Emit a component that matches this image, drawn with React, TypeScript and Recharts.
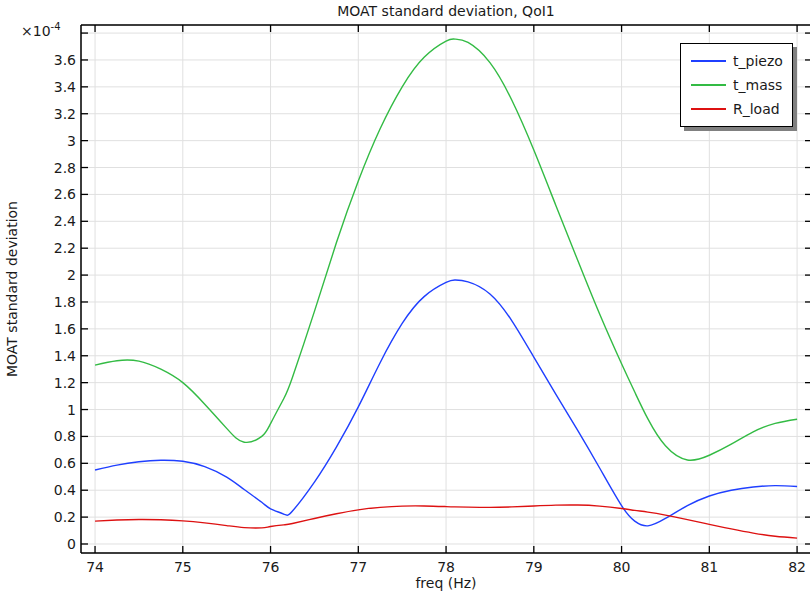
import React from 'react';
import { LineChart, Line, XAxis, YAxis, CartesianGrid, Legend } from 'recharts';

const freq = [74, 74.25, 74.5, 74.75, 75, 75.25, 75.5, 75.7, 75.9, 76, 76.15, 76.25, 76.5, 76.75, 77, 77.25, 77.5, 77.75, 78, 78.1, 78.25, 78.5, 78.75, 79, 79.25, 79.5, 79.75, 80, 80.15, 80.3, 80.5, 80.75, 81, 81.25, 81.5, 81.75, 82];

const tPiezo = [0.55, 0.587, 0.612, 0.623, 0.615, 0.575, 0.497, 0.405, 0.31, 0.262, 0.222, 0.245, 0.46, 0.72, 1.02, 1.35, 1.64, 1.84, 1.945, 1.963, 1.95, 1.86, 1.66, 1.39, 1.115, 0.845, 0.565, 0.285, 0.17, 0.135, 0.19, 0.285, 0.357, 0.40, 0.424, 0.434, 0.428];

const tMass = [1.33, 1.363, 1.36, 1.30, 1.20, 1.04, 0.86, 0.757, 0.80, 0.895, 1.08, 1.24, 1.73, 2.24, 2.70, 3.09, 3.40, 3.62, 3.74, 3.755, 3.73, 3.58, 3.30, 2.93, 2.52, 2.11, 1.71, 1.34, 1.13, 0.93, 0.73, 0.625, 0.66, 0.742, 0.834, 0.897, 0.928];

const rLoad = [0.17, 0.178, 0.182, 0.18, 0.172, 0.157, 0.137, 0.122, 0.12, 0.13, 0.142, 0.152, 0.19, 0.225, 0.254, 0.272, 0.282, 0.283, 0.278, 0.276, 0.274, 0.272, 0.276, 0.283, 0.289, 0.29, 0.282, 0.264, 0.25, 0.237, 0.215, 0.181, 0.146, 0.112, 0.081, 0.058, 0.044];

const xTicks = [74, 75, 76, 77, 78, 79, 80, 81, 82];
const yTicks = [0, 0.2, 0.4, 0.6, 0.8, 1, 1.2, 1.4, 1.6, 1.8, 2, 2.2, 2.4, 2.6, 2.8, 3, 3.2, 3.4, 3.6, 3.8];
const yLabelMax = 3.6;

const seriesNames = ['t_piezo', 't_mass', 'R_load'];
const seriesColors = ['#1f3fff', '#33bb44', '#dd1111'];

const data = freq.map((f, i) => ({
  freq: f,
  t_piezo: tPiezo[i],
  t_mass: tMass[i],
  R_load: rLoad[i],
}));

const FONT = '"DejaVu Sans", sans-serif';
const TXT = '#1a1a1a';
const TICK = 7;

const fmt = (v: number) => String(Math.round(v * 10) / 10);

const LeftTick = (props: any) => {
  const { x, y, payload } = props;
  const v = payload.value as number;
  return (
    <g>
      <line x1={x} x2={x + TICK} y1={y} y2={y} stroke="#000" strokeWidth={1.3} />
      {v <= yLabelMax + 1e-9 && (
        <text x={x - 5} y={y} dy={5} textAnchor="end" fontSize={14} fontFamily={FONT} fill={TXT}>
          {fmt(v)}
        </text>
      )}
    </g>
  );
};

const RightTick = (props: any) => {
  const { x, y } = props;
  return <line x1={x} x2={x - TICK} y1={y} y2={y} stroke="#000" strokeWidth={1.3} />;
};

const BottomTick = (props: any) => {
  const { x, y, payload } = props;
  return (
    <g>
      <line x1={x} x2={x} y1={y} y2={y - TICK} stroke="#000" strokeWidth={1.3} />
      <text x={x} y={y + 19} textAnchor="middle" fontSize={14} fontFamily={FONT} fill={TXT}>
        {payload.value}
      </text>
    </g>
  );
};

const TopTick = (props: any) => {
  const { x, y } = props;
  return <line x1={x} x2={x} y1={y} y2={y + TICK} stroke="#000" strokeWidth={1.3} />;
};

const renderLegend = () => (
  <div
    style={{
      position: 'relative',
      width: 113,
      height: 84,
      boxSizing: 'border-box',
      border: '1px solid #000',
      background: '#fff',
      boxShadow: '4px 4px 0 #808080',
      fontFamily: FONT,
      fontSize: 14,
      color: TXT,
    }}
  >
    {seriesNames.map((name, i) => (
      <div
        key={name}
        style={{
          position: 'absolute',
          left: 10,
          top: 7 + i * 24,
          height: 20,
          display: 'flex',
          alignItems: 'center',
          whiteSpace: 'nowrap',
        }}
      >
        <div style={{ width: 35, height: 2, background: seriesColors[i] }} />
        <span style={{ marginLeft: 7, lineHeight: '20px' }}>{name}</span>
      </div>
    ))}
  </div>
);

export default function App() {
  return (
    <div
      style={{
        position: 'absolute',
        left: 0,
        top: 0,
        width: 810,
        height: 595,
        overflow: 'hidden',
        background: '#fff',
        fontFamily: FONT,
      }}
    >
      <LineChart width={820} height={595} data={data} margin={{ top: 0, right: 0, bottom: 0, left: 0 }}>
        <CartesianGrid xAxisId="b" yAxisId="l" stroke="#e0e0e0" strokeWidth={1} />
        <XAxis
          xAxisId="b"
          dataKey="freq"
          type="number"
          orientation="bottom"
          domain={[73.84, 82.17]}
          ticks={xTicks}
          interval={0}
          allowDataOverflow
          height={42}
          tickSize={0}
          tickMargin={0}
          tickLine={false}
          axisLine={{ stroke: '#000', strokeWidth: 1.5 }}
          tick={BottomTick}
        />
        <XAxis
          xAxisId="t"
          dataKey="freq"
          type="number"
          orientation="top"
          domain={[73.84, 82.17]}
          ticks={xTicks}
          interval={0}
          allowDataOverflow
          height={25}
          tickSize={0}
          tickMargin={0}
          tickLine={false}
          axisLine={{ stroke: '#000', strokeWidth: 1.5 }}
          tick={TopTick}
        />
        <YAxis
          yAxisId="l"
          type="number"
          orientation="left"
          domain={[-0.067, 3.86]}
          ticks={yTicks}
          interval={0}
          allowDataOverflow
          width={81}
          tickSize={0}
          tickMargin={0}
          tickLine={false}
          axisLine={{ stroke: '#000', strokeWidth: 1.5 }}
          tick={LeftTick}
        />
        <YAxis
          yAxisId="r"
          type="number"
          orientation="right"
          domain={[-0.067, 3.86]}
          ticks={yTicks}
          interval={0}
          allowDataOverflow
          width={8}
          tickSize={0}
          tickMargin={0}
          tickLine={false}
          axisLine={{ stroke: '#000', strokeWidth: 1.5 }}
          tick={RightTick}
        />
        <Legend
          layout="vertical"
          align="center"
          verticalAlign="middle"
          content={renderLegend}
          wrapperStyle={{ left: 680, top: 43, width: 113, height: 84 }}
        />
        {seriesNames.map((name, i) => (
          <Line
            key={name}
            xAxisId="b"
            yAxisId="l"
            type="natural"
            dataKey={name}
            stroke={seriesColors[i]}
            strokeWidth={1.4}
            dot={false}
            activeDot={false}
            isAnimationActive={false}
          />
        ))}
      </LineChart>
      <div
        style={{
          position: 'absolute',
          left: 446,
          top: 11,
          transform: 'translate(-50%, -50%)',
          fontSize: 14,
          color: TXT,
          whiteSpace: 'nowrap',
        }}
      >
        MOAT standard deviation, QoI1
      </div>
      <div
        style={{
          position: 'absolute',
          left: 446,
          top: 583,
          transform: 'translate(-50%, -50%)',
          fontSize: 14,
          color: TXT,
          whiteSpace: 'nowrap',
        }}
      >
        freq (Hz)
      </div>
      <div
        style={{
          position: 'absolute',
          left: 12,
          top: 289,
          transform: 'translate(-50%, -50%) rotate(-90deg)',
          fontSize: 14,
          color: TXT,
          whiteSpace: 'nowrap',
        }}
      >
        MOAT standard deviation
      </div>
      <div
        style={{
          position: 'absolute',
          left: 21,
          top: 23,
          fontSize: 14,
          color: TXT,
          whiteSpace: 'nowrap',
          lineHeight: '16px',
        }}
      >
        ×10<span style={{ fontSize: 10, position: 'relative', top: -6 }}>-4</span>
      </div>
    </div>
  );
}
